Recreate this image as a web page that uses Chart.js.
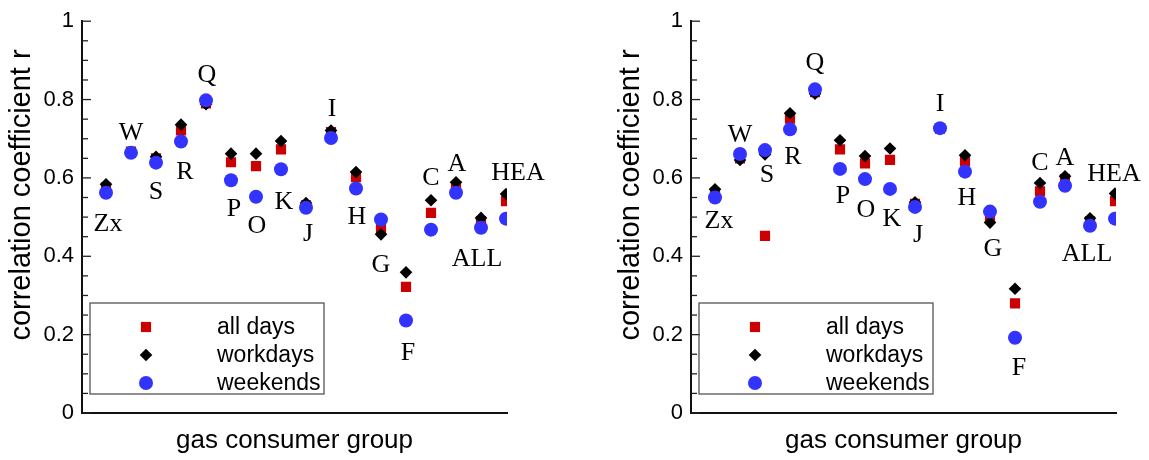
<!DOCTYPE html>
<html>
<head>
<meta charset="utf-8">
<script src="https://cdn.jsdelivr.net/npm/chart.js@4.4.1/dist/chart.umd.min.js"></script>
<style>
  html, body { margin: 0; padding: 0; background: #fff; }
  .panel { position: absolute; top: 0; height: 460px; }
  #panelA { left: 0; width: 609px; }
  #panelB { left: 609px; width: 540px; }
</style>
</head>
<body>
<div class="panel" id="panelA"><canvas id="chartA"></canvas></div>
<div class="panel" id="panelB"><canvas id="chartB"></canvas></div>
<script>
// Consumer groups (same order in both panels)
const groups = ["Zx", "W", "S", "R", "Q", "P", "O", "K", "J", "I", "H", "G", "F", "C", "A", "ALL", "HEA"];
const seriesNames = ["all days", "workdays", "weekends"];
const yTicks = [0, 0.2, 0.4, 0.6, 0.8, 1];

// Left panel values
const allDaysA  = [0.575, 0.667, 0.650, 0.721, 0.790, 0.640, 0.630, 0.673, 0.530, 0.717, 0.602, 0.469, 0.322, 0.511, 0.579, 0.490, 0.541];
const workdaysA = [0.584, 0.665, 0.654, 0.736, 0.788, 0.662, 0.662, 0.694, 0.536, 0.721, 0.615, 0.456, 0.359, 0.543, 0.589, 0.498, 0.559];
const weekendsA = [0.562, 0.664, 0.639, 0.693, 0.798, 0.594, 0.552, 0.622, 0.524, 0.702, 0.573, 0.494, 0.236, 0.468, 0.562, 0.473, 0.496];

// Right panel values
const allDaysB  = [0.562, 0.650, 0.452, 0.751, 0.819, 0.673, 0.637, 0.646, 0.534, 0.726, 0.642, 0.497, 0.280, 0.566, 0.597, 0.489, 0.541];
const workdaysB = [0.571, 0.646, 0.660, 0.765, 0.815, 0.696, 0.656, 0.675, 0.538, 0.726, 0.658, 0.486, 0.317, 0.587, 0.604, 0.497, 0.560];
const weekendsB = [0.550, 0.661, 0.671, 0.724, 0.826, 0.623, 0.597, 0.572, 0.526, 0.727, 0.616, 0.514, 0.192, 0.539, 0.580, 0.478, 0.496];

// Where each group name sits (x in group units, y in r units)
const labelPosA = [[0.08, 0.486], [1, 0.720], [2, 0.567], [3.16, 0.620], [4.04, 0.866], [5.12, 0.524], [6.04, 0.481], [7.12, 0.542], [8.08, 0.461], [9.04, 0.781], [10.04, 0.504], [11, 0.383], [12.08, 0.156], [13, 0.605], [14.04, 0.640], [14.84, 0.398], [16.48, 0.617]];
const labelPosB = [[0.16, 0.494], [1, 0.713], [2.08, 0.612], [3.12, 0.657], [4, 0.897], [5.12, 0.557], [6.04, 0.521], [7.08, 0.499], [8.12, 0.458], [9, 0.793], [10.08, 0.552], [11.12, 0.423], [12.16, 0.118], [13, 0.642], [14, 0.655], [14.88, 0.411], [15.96, 0.615]];

const styles = [
  { color: "#cc0000", pointStyle: "rect", radius: 7.2, order: 3 },
  { color: "#000000", pointStyle: "rectRot", radius: 6.3, order: 2 },
  { color: "#3333ff", pointStyle: "circle", radius: 7, order: 1 }
];

const isMajor = v => Math.abs(v * 5 - Math.round(v * 5)) < 1e-6;

// inward tick marks on the y axis
const innerTicks = {
  id: "innerTicks",
  afterDraw(chart) {
    const { ctx, chartArea, scales: { y } } = chart;
    ctx.save();
    ctx.strokeStyle = "#222";
    ctx.lineWidth = 1.3;
    y.ticks.forEach(t => {
      const py = y.getPixelForValue(t.value);
      ctx.beginPath();
      ctx.moveTo(chartArea.left, py);
      ctx.lineTo(chartArea.left + (isMajor(t.value) ? 9 : 6), py);
      ctx.stroke();
    });
    ctx.restore();
  }
};

// group names, y title and the boxed legend
const extras = {
  id: "extras",
  afterDraw(chart, args, opts) {
    const { ctx, chartArea, scales: { x, y } } = chart;
    ctx.save();

    ctx.fillStyle = "#000";
    ctx.font = '26px "Liberation Serif"';
    ctx.textAlign = "center";
    ctx.textBaseline = "alphabetic";
    groups.forEach((g, i) => {
      const [lx, ly] = opts.labelPos[i];
      ctx.fillText(g, x.getPixelForValue(lx), y.getPixelForValue(ly) + 8.6);
    });

    ctx.save();
    ctx.font = '29px "Liberation Sans"';
    ctx.textBaseline = "middle";
    ctx.translate(22, 195);
    ctx.rotate(-Math.PI / 2);
    ctx.fillText("correlation coefficient r", 0, 0);
    ctx.restore();

    const bx = chartArea.left + 8, by = 303;
    ctx.strokeStyle = "#555";
    ctx.lineWidth = 1.3;
    ctx.strokeRect(bx, by, 234, 91);
    ctx.font = '23px "Liberation Sans"';
    ctx.textAlign = "left";
    ctx.textBaseline = "middle";
    chart.data.datasets.forEach((ds, i) => {
      const ry = 327 + i * 28;
      ctx.fillStyle = ds.backgroundColor;
      ctx.strokeStyle = ds.backgroundColor;
      Chart.helpers.drawPoint(ctx, { pointStyle: ds.pointStyle, radius: ds.pointRadius, rotation: 0, borderWidth: 0 }, bx + 56, ry);
      ctx.fillStyle = "#000";
      ctx.fillText(ds.label, bx + 127, ry + 1);
    });
    ctx.restore();
  }
};

function makePanel(canvasId, seriesValues, labelPos, rightPad) {
  const datasets = seriesValues.map((vals, s) => ({
    label: seriesNames[s],
    data: vals.map((v, i) => ({ x: i, y: v })),
    backgroundColor: styles[s].color,
    borderColor: styles[s].color,
    borderWidth: 0,
    pointStyle: styles[s].pointStyle,
    pointRadius: styles[s].radius,
    order: styles[s].order
  }));

  return new Chart(document.getElementById(canvasId), {
    type: "scatter",
    data: { datasets },
    options: {
      responsive: true,
      maintainAspectRatio: false,
      animation: false,
      layout: { padding: { left: 0, right: rightPad, top: 16, bottom: 0 } },
      plugins: {
        legend: { display: false },
        tooltip: { enabled: false },
        extras: { labelPos }
      },
      scales: {
        x: {
          type: "linear",
          min: -0.96,
          max: 16.04,
          grid: { display: false, drawTicks: false },
          border: { display: true, color: "#111", width: 2 },
          ticks: { display: false },
          title: {
            display: true,
            text: "gas consumer group",
            color: "#000",
            font: { family: "Liberation Sans", size: 26 },
            padding: { top: 0, bottom: 4 }
          },
          afterFit: s => { s.height = 47; }
        },
        y: {
          min: 0,
          max: 1,
          grid: { display: false, drawTicks: false },
          border: { display: true, color: "#111", width: 2 },
          ticks: {
            stepSize: 0.05,
            autoSkip: false,
            padding: 8,
            color: "#000",
            font: { family: "Liberation Sans", size: 22 },
            callback: v => (isMajor(v) && yTicks.includes(Number(v.toFixed(1)))) ? String(Number(v.toFixed(1))) : ""
          },
          afterFit: s => { s.width = 82; }
        }
      }
    },
    plugins: [innerTicks, extras]
  });
}

makePanel("chartA", [allDaysA, workdaysA, weekendsA], labelPosA, 102);
makePanel("chartB", [allDaysB, workdaysB, weekendsB], labelPosB, 33);
</script>
</body>
</html>
